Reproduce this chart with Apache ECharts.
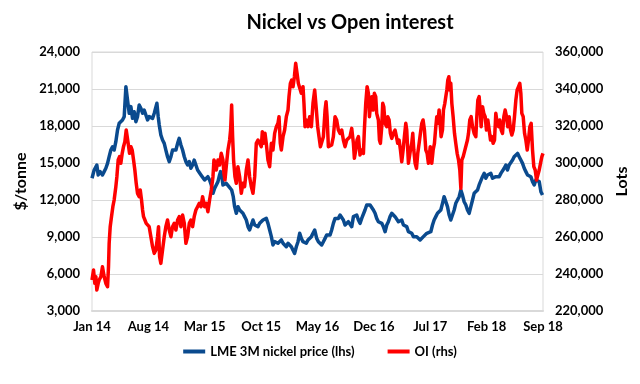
<!DOCTYPE html>
<html><head><meta charset="utf-8">
<script src="https://cdn.jsdelivr.net/npm/echarts@6/dist/echarts.min.js"></script>
<style>html,body{margin:0;padding:0;background:#fff}#c{width:640px;height:384px}</style>
</head><body><div id="c"></div>
<script>
const chartTitle = 'Nickel vs Open interest';
const xTickLabels = ['Jan 14','Aug 14','Mar 15','Oct 15','May 16','Dec 16','Jul 17','Feb 18','Sep 18'];
const leftAxisName = '$/tonne';
const rightAxisName = 'Lots';
const seriesNames = ['LME 3M nickel price (lhs)', 'OI (rhs)'];

// [months since 1 Jan 2014, LME 3M nickel price $/tonne]
const nickelPrice = [[0,13760],[0.27,14430],[0.60,14840],[0.77,14030],[1.01,14300],[1.30,14030],[1.51,14300],[1.72,14570],[1.93,14970],[2.13,15510],[2.34,16050],[2.55,16320],[2.75,16050],[2.96,16730],[3.17,17680],[3.38,18220],[3.58,18350],[3.79,18490],[4.00,18760],[4.21,21190],[4.41,20110],[4.62,19030],[4.83,19570],[5.03,18620],[5.24,19160],[5.45,18350],[5.65,18760],[5.86,19700],[6.07,19430],[6.28,19030],[6.48,19300],[6.69,18890],[6.90,18490],[7.10,18760],[7.31,18890],[7.52,18620],[7.73,19030],[7.93,19160],[8.06,19840],[8.22,18760],[8.35,18080],[8.55,17270],[8.76,16860],[8.97,16590],[9.17,16050],[9.38,15510],[9.59,15110],[9.80,15510],[10.00,16050],[10.21,16190],[10.42,16050],[10.63,16590],[10.83,17000],[11.04,16460],[11.25,16050],[11.46,15510],[11.66,15110],[11.87,14840],[12.08,15110],[12.28,14570],[12.49,14840],[12.69,15240],[12.90,14840],[13.11,14430],[13.32,14300],[13.53,14030],[13.73,13890],
[13.98,13620],[14.19,13760],[14.39,13890],[14.60,13620],[14.81,13220],[15.02,12540],[15.22,12940],[15.43,13080],[15.64,13490],[15.84,14030],[15.97,14300],[16.13,13890],[16.26,13220],[16.47,13080],[16.67,13350],[16.88,13490],[17.00,13080],[17.17,13220],[17.34,12810],[17.54,12270],[17.71,11460],[17.92,10920],[18.12,11460],[18.33,11190],[18.54,11320],[18.74,10920],[18.95,10650],[19.16,10380],[19.37,9840],[19.57,9570],[19.78,9970],[19.99,10380],[20.20,9970],[20.40,10110],[20.61,9840],[20.82,10110],[21.02,9970],[21.23,10380],[21.44,10510],[21.64,10510],[21.85,10110],[22.06,9570],[22.27,9030],[22.47,8350],[22.68,8620],[22.89,8760],[23.09,8490],[23.30,8620],[23.51,8760],[23.72,8490],[23.92,8620],[24.13,8210],[24.34,8490],[24.54,8350],[24.75,8210],[24.96,8080],[25.16,7670],[25.37,8210],[25.58,8620],[25.79,9300],[25.99,8890],[26.20,8620],[26.41,8760],[26.61,8490],[26.82,8760],[27.03,8890],[27.24,9030],[27.44,9300],[27.65,9570],
[27.90,8890],[28.11,8620],[28.31,8490],[28.52,8350],[28.73,8620],[28.94,8890],[29.14,9160],[29.35,9300],[29.56,9160],[29.76,9570],[29.97,10110],[30.18,10510],[30.38,10650],[30.59,10510],[30.80,10780],[31.01,10650],[31.21,10380],[31.42,9970],[31.63,9840],[31.83,10240],[32.04,10110],[32.25,9840],[32.46,10650],[32.66,10510],[32.87,10780],[33.08,10380],[33.28,10110],[33.49,10510],[33.70,10650],[33.90,11190],[34.11,11590],[34.32,11460],[34.53,11590],[34.73,11460],[34.94,11190],[35.15,10920],[35.35,10510],[35.56,10240],[35.77,10380],[35.98,10110],[36.18,9840],[36.39,9430],[36.60,9970],[36.80,10240],[37.01,10650],[37.22,10920],[37.42,11050],[37.63,10650],[37.84,10780],[38.05,10240],[38.25,10110],[38.46,10380],[38.67,9970],[38.87,10110],[39.08,9840],[39.29,9430],[39.50,9430],[39.70,9300],[39.91,9030],[40.12,9160],[40.32,9030],[40.53,8890],[40.74,8760],[40.94,8890],[41.15,9030],[41.36,9160],[41.57,9300],[41.77,9430],
[42.07,9430],[42.28,9970],[42.48,10380],[42.69,10650],[42.90,10920],[43.10,10780],[43.31,11190],[43.52,11730],[43.72,12270],[43.93,12130],[44.14,11460],[44.35,10780],[44.55,10380],[44.76,10780],[44.97,11190],[45.17,11730],[45.38,11860],[45.59,12270],[45.80,12810],[46.00,12400],[46.21,11860],[46.42,11590],[46.62,11190],[46.83,10920],[47.04,11460],[47.25,12000],[47.45,12540],[47.66,12670],[47.87,12810],[48.07,13220],[48.28,13350],[48.49,13890],[48.70,14160],[48.90,13760],[49.11,14030],[49.32,13890],[49.52,14160],[49.73,13760],[49.94,13620],[50.14,13890],[50.35,13760],[50.56,13890],[50.77,14160],[50.97,14030],[51.18,14570],[51.39,14840],[51.59,14430],[51.80,14840],[52.01,14970],[52.22,15240],[52.42,15510],[52.63,15650],[52.84,15780],[53.04,15510],[53.25,15240],[53.46,14970],[53.67,14570],[53.87,14300],[54.08,14030],[54.29,14160],[54.49,13890],[54.70,13490],[54.91,13220],[55.11,13620],[55.32,13760],[55.53,13490],[55.74,12670],[55.94,12400]];

// [months since 1 Jan 2014, open interest in lots]
const openInterest = [[0,236740],[0.19,242150],[0.35,234940],[0.48,238550],[0.60,231340],[0.77,234940],[0.89,236740],[1.10,238550],[1.30,243950],[1.51,238550],[1.72,234940],[1.93,233140],[2.05,243950],[2.13,256570],[2.26,265580],[2.42,270980],[2.59,276390],[2.75,279990],[2.96,287200],[3.09,292610],[3.25,301610],[3.42,303420],[3.58,299810],[3.75,305220],[3.91,308820],[4.08,311530],[4.25,317830],[4.37,318730],[4.49,310620],[4.66,305220],[4.83,308820],[4.99,307020],[5.16,301610],[5.32,296210],[5.49,289000],[5.65,283600],[5.86,281790],[5.99,285400],[6.15,279990],[6.28,274590],[6.40,270980],[6.57,269180],[6.73,267380],[6.90,266480],[7.10,265580],[7.31,260170],[7.52,254760],[7.73,251160],[7.93,252960],[8.14,260170],[8.26,265580],[8.39,249360],[8.55,245750],[8.76,252960],[8.97,260170],[9.17,265580],[9.38,269180],[9.59,263770],[9.80,260170],[10.00,265580],[10.21,267380],[10.42,263770],[10.63,269180],[10.83,270980],[11.04,265580],[11.25,271880],[11.46,267380],[11.66,256570],[11.87,260170],[12.08,267380],[12.28,269180],[12.49,265580],[12.69,270980],[12.90,274590],[13.11,276390],[13.32,278190],[13.53,276390],[13.73,281790],
[13.98,276390],[14.19,278190],[14.39,273680],[14.60,279990],[14.81,285400],[15.02,292610],[15.14,301610],[15.31,299810],[15.43,296210],[15.64,301610],[15.84,298910],[16.05,305220],[16.26,301610],[16.38,294410],[16.51,290800],[16.67,298010],[16.88,307020],[17.09,312430],[17.21,317830],[17.34,331350],[17.46,314230],[17.58,301610],[17.75,292610],[17.92,289000],[18.12,298010],[18.33,292610],[18.54,283600],[18.74,289000],[18.95,287200],[19.16,296210],[19.37,301610],[19.57,292610],[19.78,287200],[19.99,283600],[20.20,292610],[20.40,310620],[20.61,312430],[20.82,311530],[21.02,308820],[21.15,316930],[21.31,310620],[21.48,316030],[21.64,310620],[21.85,301610],[22.06,298010],[22.27,310620],[22.47,307020],[22.68,316030],[22.89,319640],[23.09,321440],[23.22,325040],[23.38,310620],[23.51,307020],[23.72,314230],[23.92,317830],[24.13,325040],[24.34,328650],[24.46,335850],[24.63,343060],[24.80,344860],[24.96,341260],[25.13,346660],[25.29,353870],[25.46,348470],[25.62,343060],[25.79,343060],[25.99,337660],[26.20,341260],[26.32,332250],[26.45,319640],[26.61,323240],[26.82,319640],[27.03,325040],[27.24,319640],[27.44,332250],[27.65,339460],[27.86,328650],
[28.02,319640],[28.19,314230],[28.36,308820],[28.52,309720],[28.73,314230],[28.94,328650],[29.06,333150],[29.19,325040],[29.35,308820],[29.56,307920],[29.76,309720],[29.97,314230],[30.18,325040],[30.38,323240],[30.59,317830],[30.80,316030],[31.01,317830],[31.21,312430],[31.42,308820],[31.63,312430],[31.83,311530],[32.04,314230],[32.25,318730],[32.46,310620],[32.58,302520],[32.75,307020],[32.91,312430],[33.08,314230],[33.28,304320],[33.49,307020],[33.70,305220],[33.82,317830],[33.99,332250],[34.16,341260],[34.32,337660],[34.45,325040],[34.57,330450],[34.73,335850],[34.90,328650],[35.06,337660],[35.23,335850],[35.35,326840],[35.56,323240],[35.69,312430],[35.81,310620],[35.98,319640],[36.10,332250],[36.23,330450],[36.39,321440],[36.60,319640],[36.72,325040],[36.89,323240],[37.05,316030],[37.22,313330],[37.42,316030],[37.63,317830],[37.80,314230],[37.96,310620],[38.13,312430],[38.30,307020],[38.46,300710],[38.63,307020],[38.79,314230],[38.96,321440],[39.08,317830],[39.29,299810],[39.41,298910],[39.54,307020],[39.70,310620],[39.83,316030],[39.96,307020],[40.12,299810],[40.29,297110],[40.45,305220],[40.62,310620],[40.78,316030],[40.95,321440],[41.11,323240],[41.28,317830],[41.45,307020],[41.61,305220],[41.77,299810],[42.00,308820],[42.19,299810],
[42.36,307020],[42.52,310620],[42.69,319640],[42.81,325040],[42.94,321440],[43.10,328650],[43.23,329550],[43.35,314230],[43.52,317830],[43.64,328650],[43.81,332250],[43.93,335850],[44.06,339460],[44.18,344860],[44.31,346660],[44.43,339460],[44.55,343060],[44.68,332250],[44.84,325040],[45.01,316030],[45.17,310620],[45.34,305220],[45.51,301610],[45.67,296210],[45.80,286300],[45.92,301610],[46.09,303420],[46.25,306120],[46.42,307020],[46.62,312430],[46.75,316030],[46.91,323240],[47.08,325040],[47.25,319640],[47.45,316030],[47.66,314230],[47.78,325040],[47.91,334050],[48.07,335850],[48.20,328650],[48.32,319640],[48.49,330450],[48.65,326840],[48.82,325040],[48.98,317830],[49.15,323240],[49.32,317830],[49.48,312430],[49.65,314230],[49.81,310620],[49.98,312430],[50.14,326840],[50.31,321440],[50.48,319640],[50.64,323240],[50.81,317830],[50.97,316030],[51.14,325040],[51.30,328650],[51.47,325040],[51.63,319640],[51.80,325040],[51.97,317830],[52.13,315130],[52.30,317830],[52.46,325040],[52.63,334050],[52.79,339460],[52.96,341260],[53.12,343060],[53.25,337660],[53.37,326840],[53.54,325040],[53.71,316030],[53.87,312430],[54.04,307020],[54.20,312430],[54.37,319640],[54.53,321440],[54.70,307020],[54.86,298010],[55.03,296210],[55.20,290800],[55.36,293510],[55.53,296210],[55.69,299810],[55.86,303420],[56.0,305220]];

const FONT = 'Lato';
const txt = {fontFamily: FONT, fontWeight: 'bold', color: '#000'};
const fmt = v => v.toLocaleString('en-US');

const chart = echarts.init(document.getElementById('c'), null, {renderer: 'canvas'});
chart.setOption({
  animation: false,
  backgroundColor: '#fff',
  title: {
    text: chartTitle, left: 345, top: 8, textAlign: 'center',
    textStyle: {fontFamily: FONT, fontWeight: 'bold', fontSize: 20, color: '#000'}
  },
  grid: {left: 92, right: 97, top: 52, bottom: 73, show: true, borderColor: '#D9D9D9', borderWidth: 1},
  legend: {
    bottom: 21, left: 'center', itemGap: 33, itemWidth: 22, itemHeight: 4, icon: 'rect',
    textStyle: Object.assign({fontSize: 13}, txt),
    data: seriesNames
  },
  xAxis: {
    type: 'value', min: 0, max: 56, interval: 7,
    axisLine: {show: true, lineStyle: {color: '#D9D9D9', width: 2}},
    axisTick: {show: false}, splitLine: {show: false},
    axisLabel: Object.assign({fontSize: 13, margin: 9, formatter: v => xTickLabels[Math.round(v / 7)]}, txt)
  },
  yAxis: [{
    type: 'value', position: 'left', min: 3000, max: 24000, interval: 3000,
    name: leftAxisName, nameLocation: 'middle', nameGap: 50, nameRotate: 90,
    nameTextStyle: Object.assign({fontSize: 16}, txt),
    axisLine: {show: false}, axisTick: {show: false},
    splitLine: {show: true, lineStyle: {color: '#D9D9D9', width: 1}},
    axisLabel: Object.assign({fontSize: 13, margin: 12, formatter: fmt}, txt)
  }, {
    type: 'value', position: 'right', min: 220000, max: 360000, interval: 20000,
    name: rightAxisName, nameLocation: 'middle', nameGap: 57, nameRotate: 90,
    nameTextStyle: Object.assign({fontSize: 16}, txt),
    axisLine: {show: false}, axisTick: {show: false}, splitLine: {show: false},
    axisLabel: Object.assign({fontSize: 13, margin: 12, formatter: fmt}, txt)
  }],
  series: [{
    name: seriesNames[0], type: 'line', yAxisIndex: 0, data: nickelPrice,
    showSymbol: false, symbol: 'none', color: '#0A4A8E',
    lineStyle: {width: 3.5, color: '#0A4A8E', join: 'round'}
  }, {
    name: seriesNames[1], type: 'line', yAxisIndex: 1, data: openInterest,
    showSymbol: false, symbol: 'none', color: '#FF0000',
    lineStyle: {width: 3.5, color: '#FF0000', join: 'round'}
  }]
});
</script></body></html>
